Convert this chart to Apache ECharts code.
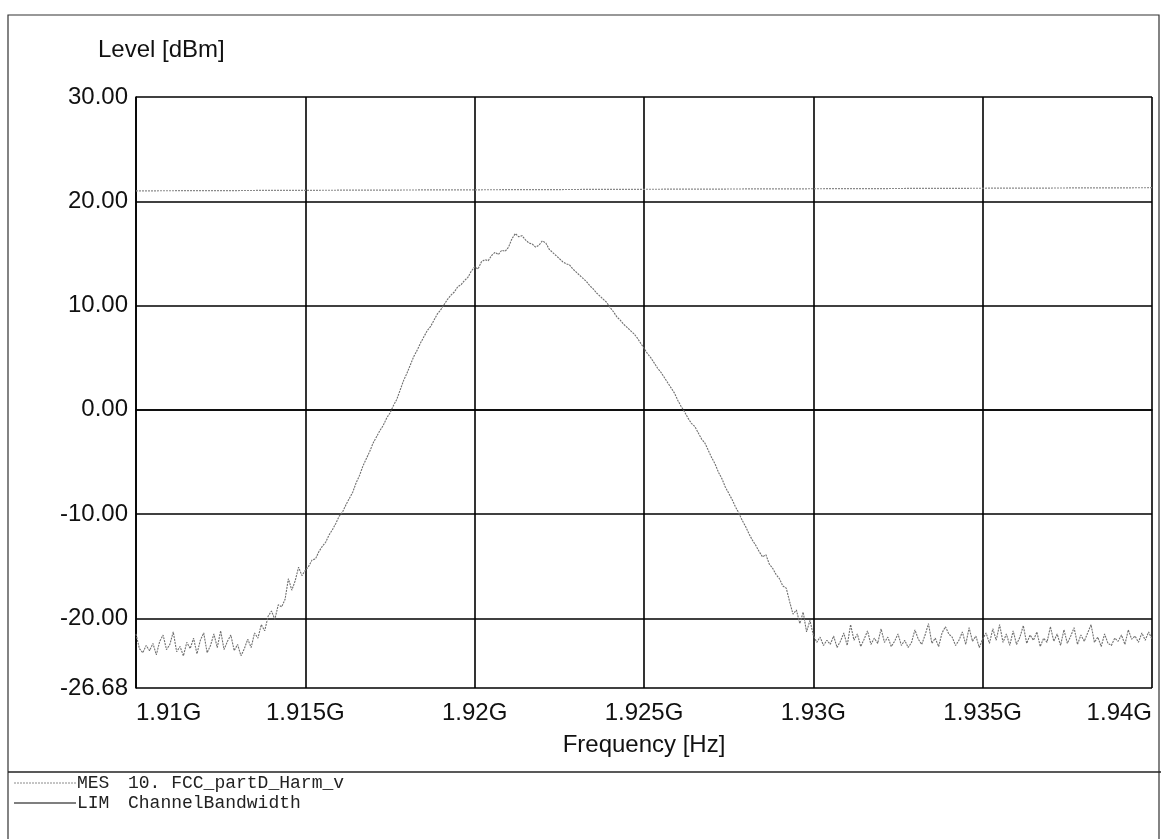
<!DOCTYPE html>
<html>
<head>
<meta charset="utf-8">
<script src="https://cdn.jsdelivr.net/npm/echarts@6/dist/echarts.min.js"></script>
<style>
  html, body { margin: 0; padding: 0; background: #fff; }
  #chart { width: 1161px; height: 839px; }
</style>
</head>
<body>
<div id="chart"></div>
<script>
// ---- Data ----
const yAxisTitle = 'Level [dBm]';
const xAxisTitle = 'Frequency [Hz]';
const yTickValues = [-26.68, -20, -10, 0, 10, 20, 30];
const xMinHz = 1.91e9;
const xMaxHz = 1.94e9;
const xTickStepHz = 5e6;

// MES trace: sweep from 1.91 GHz in 0.1 MHz steps (301 readings, dBm)
const sweepStartHz = 1.91e9;
const sweepStepHz = 0.1e6;
const mesLevel = [
  -21.5,-22.9,-23.3,-22.6,-23.1,-22.4,-23.5,-22.2,-21.6,-23.0,
  -22.5,-21.3,-23.2,-22.7,-23.6,-22.3,-22.9,-21.9,-23.4,-22.1,
  -21.4,-23.3,-22.6,-21.5,-22.8,-21.2,-23.0,-22.2,-21.6,-23.1,
  -22.5,-23.6,-22.9,-22.0,-22.8,-21.4,-21.9,-20.6,-21.2,-19.8,
  -19.3,-20.1,-18.7,-18.9,-18.2,-16.2,-17.3,-16.4,-15.1,-15.9,
  -15.4,-15.0,-14.4,-14.3,-13.6,-13.1,-12.7,-12.0,-11.5,-10.9,
  -10.2,-9.8,-9.1,-8.5,-7.9,-7.0,-6.3,-5.4,-4.7,-4.0,
  -3.2,-2.6,-2.0,-1.5,-0.8,-0.3,0.4,1.0,1.9,2.8,
  3.5,4.3,5.1,5.7,6.4,7.0,7.6,8.0,8.6,9.2,
  9.6,10.1,10.6,11.0,11.3,11.8,12.0,12.4,12.7,13.3,
  13.7,13.5,14.2,14.4,14.3,14.8,15.1,14.9,15.3,15.2,
  15.6,16.4,16.9,16.6,16.7,16.3,16.0,15.9,15.6,15.8,
  16.2,16.0,15.4,15.1,14.8,14.5,14.2,14.0,13.9,13.5,
  13.2,12.9,12.6,12.3,11.9,11.6,11.2,10.9,10.6,10.3,
  9.8,9.4,8.9,8.6,8.2,7.9,7.6,7.3,6.9,6.4,
  5.9,5.4,5.0,4.5,4.0,3.6,3.1,2.6,2.1,1.6,
  0.9,0.3,-0.2,-0.8,-1.3,-1.6,-2.2,-2.8,-3.2,-3.9,
  -4.6,-5.2,-6.0,-6.6,-7.4,-8.0,-8.6,-9.3,-9.9,-10.6,
  -11.2,-11.9,-12.5,-13.0,-13.6,-14.1,-13.9,-14.8,-15.2,-15.8,
  -16.2,-16.9,-17.1,-18.4,-19.6,-19.2,-20.5,-19.4,-21.3,-20.2,
  -21.6,-22.3,-21.8,-22.6,-22.1,-22.5,-21.7,-22.8,-22.2,-21.4,
  -22.6,-20.6,-22.1,-21.5,-22.7,-22.0,-21.2,-22.5,-21.9,-22.4,
  -21.0,-22.3,-21.8,-22.7,-22.2,-21.5,-22.6,-22.1,-22.8,-22.3,
  -21.1,-22.0,-22.5,-21.6,-20.5,-22.4,-21.9,-22.7,-21.4,-20.8,
  -21.5,-21.8,-22.6,-22.1,-21.3,-22.5,-20.9,-22.2,-21.7,-22.8,
  -22.0,-21.4,-22.4,-21.0,-22.1,-20.6,-22.3,-21.5,-22.6,-21.2,
  -22.5,-21.8,-20.7,-22.4,-21.6,-22.1,-21.3,-22.7,-21.9,-22.3,
  -20.8,-22.2,-21.5,-22.6,-21.1,-22.4,-21.7,-20.9,-22.5,-21.6,
  -22.2,-21.4,-20.6,-22.3,-21.8,-22.7,-21.5,-22.4,-22.6,-21.9,
  -22.2,-21.6,-22.5,-21.1,-22.0,-21.7,-22.3,-21.4,-22.1,-21.3,
  -22.0
];

// Upper dotted reference trace near 21 dBm
const upperFreqHz = [1.91e9, 1.94e9];
const upperLevel = [21.0, 21.3];

// Legend rows
const legendCodes = ['MES', 'LIM'];
const legendNames = ['10. FCC_partD_Harm_v', 'ChannelBandwidth'];

// ---- Build series data ----
const mesData = mesLevel.map((v, i) => [sweepStartHz + i * sweepStepHz, v]);
const upperData = upperFreqHz.map((f, i) => [f, upperLevel[i]]);

const traceColor = '#6f6f6f';
const labelFont = '"Liberation Sans", Arial, sans-serif';
const monoFont = '"Liberation Mono", "Courier New", monospace';

const chart = echarts.init(document.getElementById('chart'), null, { renderer: 'canvas' });

const legendGraphics = [];
const legendY = [783, 803];
legendCodes.forEach((code, i) => {
  legendGraphics.push({
    type: 'line',
    shape: { x1: 14, y1: legendY[i], x2: 76, y2: legendY[i] },
    style: i === 0
      ? { stroke: '#8a8a8a', lineWidth: 1, lineDash: [2, 1] }
      : { stroke: '#000', lineWidth: 1.2 }
  });
  legendGraphics.push({
    type: 'text', x: 77, y: legendY[i],
    style: { text: code, font: '18px ' + monoFont, fill: '#222', verticalAlign: 'middle' }
  });
  legendGraphics.push({
    type: 'text', x: 128, y: legendY[i],
    style: { text: legendNames[i], font: '18px ' + monoFont, fill: '#222', verticalAlign: 'middle' }
  });
});

const option = {
  backgroundColor: '#fff',
  animation: false,
  grid: { left: 136, right: 9, top: 97, bottom: 151, containLabel: false },
  xAxis: {
    type: 'value',
    min: xMinHz, max: xMaxHz, interval: xTickStepHz,
    name: xAxisTitle, nameLocation: 'middle', nameGap: 45,
    nameTextStyle: { fontFamily: labelFont, fontSize: 24, color: '#111' },
    axisLine: { show: true, lineStyle: { color: '#000', width: 1.6 } },
    axisTick: { show: false },
    axisLabel: {
      fontFamily: labelFont, fontSize: 24, color: '#111', margin: 13,
      alignMinLabel: 'left', alignMaxLabel: 'right',
      formatter: v => parseFloat((v / 1e9).toFixed(4)) + 'G'
    },
    splitLine: { show: true, lineStyle: { color: '#000', width: 1.6 } }
  },
  yAxis: {
    type: 'value',
    min: yTickValues[0], max: yTickValues[yTickValues.length - 1],
    axisLine: { show: true, lineStyle: { color: '#000', width: 1.6 } },
    axisTick: { show: false, customValues: yTickValues },
    axisLabel: {
      fontFamily: labelFont, fontSize: 24, color: '#111', margin: 8,
      customValues: yTickValues,
      formatter: v => Number(v).toFixed(2)
    },
    splitLine: { show: true, lineStyle: { color: '#000', width: 1.6 } }
  },
  graphic: [
    { type: 'rect', shape: { x: 8, y: 15, width: 1151, height: 840 },
      style: { fill: 'none', stroke: '#333', lineWidth: 1.2 }, silent: true },
    { type: 'line', shape: { x1: 8, y1: 772, x2: 1161, y2: 772 },
      style: { stroke: '#222', lineWidth: 1.5 } },
    { type: 'text', x: 98, y: 50,
      style: { text: yAxisTitle, font: '24px ' + labelFont, fill: '#111', verticalAlign: 'middle' } },
    ...legendGraphics
  ],
  series: [
    {
      name: 'MES upper', type: 'line', data: upperData, showSymbol: false, silent: true,
      lineStyle: { color: '#8a8a8a', width: 1.2, type: [2, 1] }, z: 3
    },
    {
      name: 'MES', type: 'line', data: mesData, showSymbol: false, silent: true,
      lineStyle: { color: traceColor, width: 1.1, type: [2, 1] }, z: 4
    }
  ]
};
chart.setOption(option);
</script>
</body>
</html>
